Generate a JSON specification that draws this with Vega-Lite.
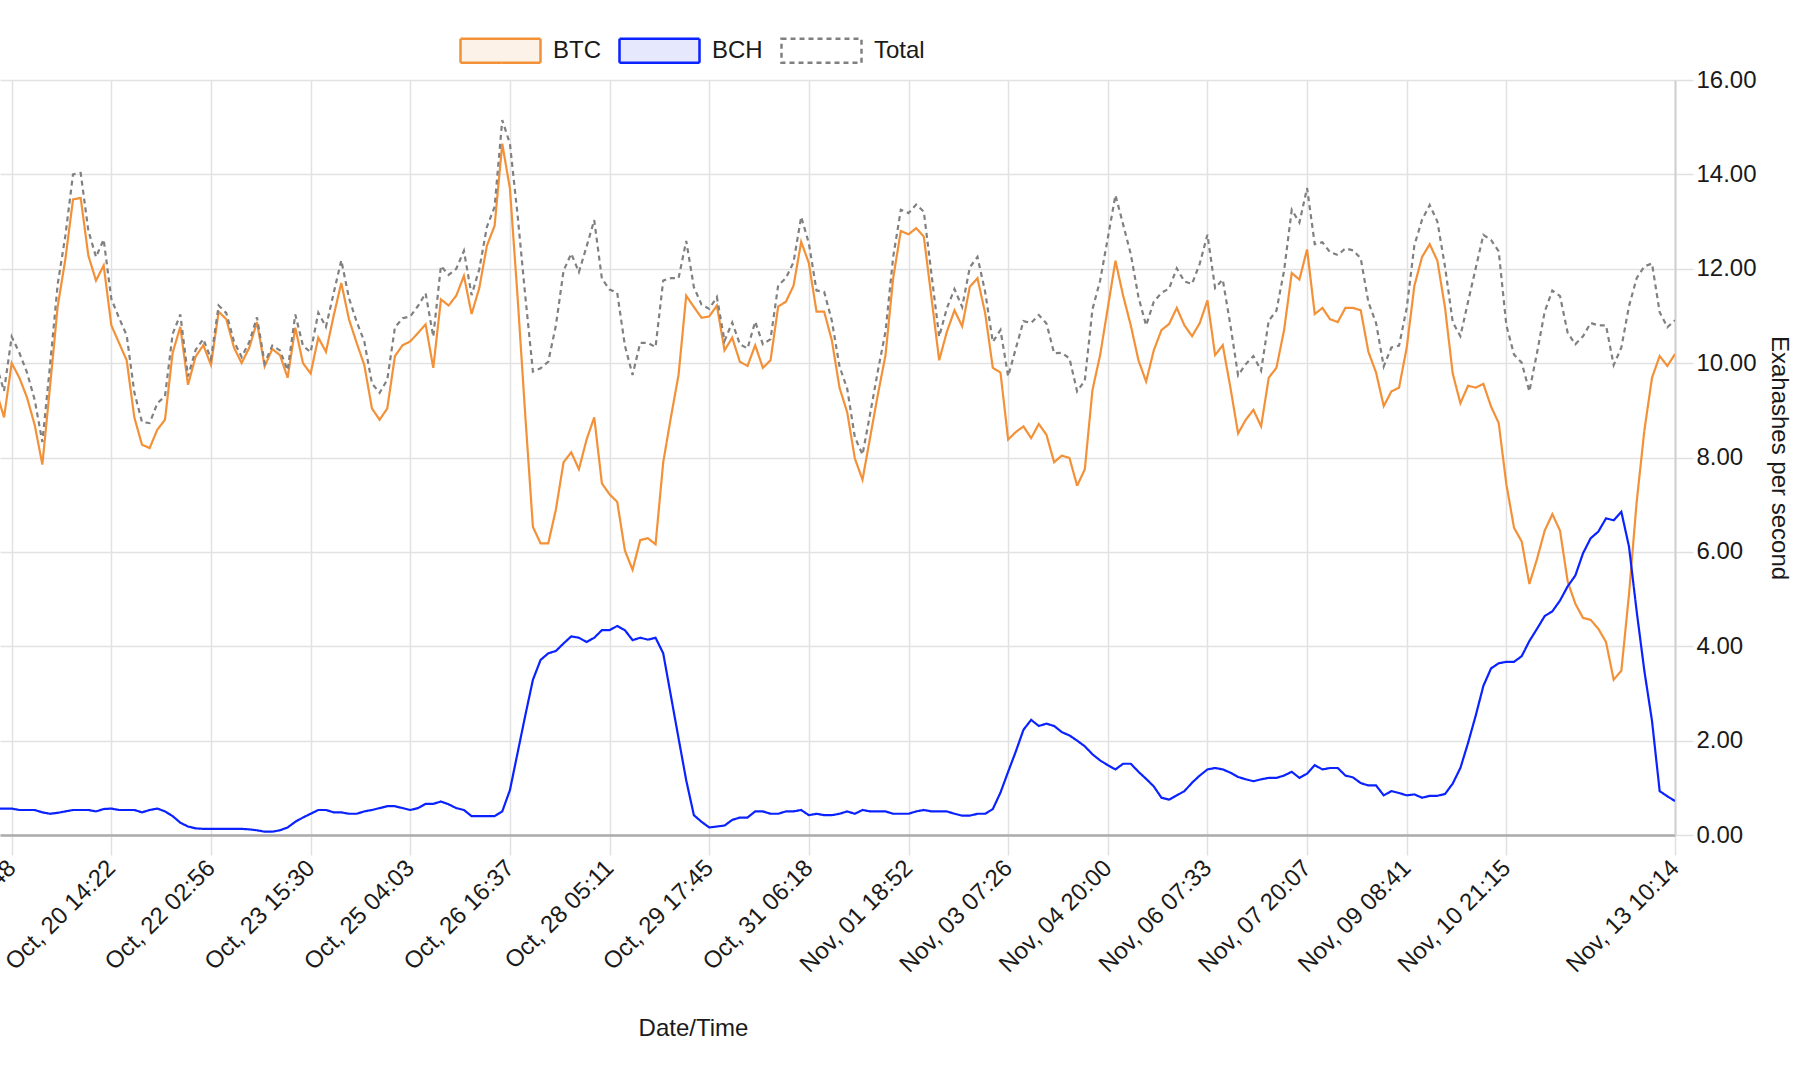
{
  "$schema": "https://vega.github.io/schema/vega-lite/v6.json",
  "width": 1675,
  "height": 755,
  "autosize": "none",
  "padding": {"left": 0, "top": 80, "right": 135, "bottom": 237},
  "background": "white",
  "config": {
    "view": {"stroke": null},
    "font": "Liberation Sans"
  },
  "data": {
    "values": [
      {"time": "2017-10-19T00:11:15Z", "BTC": 9.4, "BCH": 0.56, "Total": 9.96},
      {"time": "2017-10-19T03:00:00Z", "BTC": 8.85, "BCH": 0.56, "Total": 9.41},
      {"time": "2017-10-19T05:48:45Z", "BTC": 10.0, "BCH": 0.56, "Total": 10.56},
      {"time": "2017-10-19T08:37:30Z", "BTC": 9.69, "BCH": 0.53, "Total": 10.22},
      {"time": "2017-10-19T11:26:15Z", "BTC": 9.27, "BCH": 0.53, "Total": 9.8},
      {"time": "2017-10-19T14:15:00Z", "BTC": 8.69, "BCH": 0.53, "Total": 9.22},
      {"time": "2017-10-19T17:03:45Z", "BTC": 7.85, "BCH": 0.48, "Total": 8.33},
      {"time": "2017-10-19T19:52:30Z", "BTC": 9.5, "BCH": 0.45, "Total": 9.95},
      {"time": "2017-10-19T22:41:15Z", "BTC": 11.2, "BCH": 0.47, "Total": 11.67},
      {"time": "2017-10-20T01:30:00Z", "BTC": 12.2, "BCH": 0.5, "Total": 12.7},
      {"time": "2017-10-20T04:18:45Z", "BTC": 13.47, "BCH": 0.53, "Total": 14.0},
      {"time": "2017-10-20T07:07:30Z", "BTC": 13.5, "BCH": 0.53, "Total": 14.03},
      {"time": "2017-10-20T09:56:15Z", "BTC": 12.28, "BCH": 0.53, "Total": 12.81},
      {"time": "2017-10-20T12:45:00Z", "BTC": 11.75, "BCH": 0.5, "Total": 12.25},
      {"time": "2017-10-20T15:33:45Z", "BTC": 12.07, "BCH": 0.55, "Total": 12.62},
      {"time": "2017-10-20T18:22:30Z", "BTC": 10.8, "BCH": 0.56, "Total": 11.36},
      {"time": "2017-10-20T21:11:15Z", "BTC": 10.43, "BCH": 0.53, "Total": 10.96},
      {"time": "2017-10-21T00:00:00Z", "BTC": 10.06, "BCH": 0.53, "Total": 10.59},
      {"time": "2017-10-21T02:48:45Z", "BTC": 8.85, "BCH": 0.53, "Total": 9.38},
      {"time": "2017-10-21T05:37:30Z", "BTC": 8.27, "BCH": 0.48, "Total": 8.75},
      {"time": "2017-10-21T08:26:15Z", "BTC": 8.2, "BCH": 0.53, "Total": 8.73},
      {"time": "2017-10-21T11:15:00Z", "BTC": 8.59, "BCH": 0.56, "Total": 9.15},
      {"time": "2017-10-21T14:03:45Z", "BTC": 8.8, "BCH": 0.5, "Total": 9.3},
      {"time": "2017-10-21T16:52:30Z", "BTC": 10.22, "BCH": 0.4, "Total": 10.62},
      {"time": "2017-10-21T19:41:15Z", "BTC": 10.77, "BCH": 0.26, "Total": 11.03},
      {"time": "2017-10-21T22:30:00Z", "BTC": 9.54, "BCH": 0.18, "Total": 9.72},
      {"time": "2017-10-22T01:18:45Z", "BTC": 10.14, "BCH": 0.14, "Total": 10.28},
      {"time": "2017-10-22T04:07:30Z", "BTC": 10.38, "BCH": 0.13, "Total": 10.51},
      {"time": "2017-10-22T06:56:15Z", "BTC": 9.96, "BCH": 0.13, "Total": 10.09},
      {"time": "2017-10-22T09:45:00Z", "BTC": 11.09, "BCH": 0.13, "Total": 11.22},
      {"time": "2017-10-22T12:33:45Z", "BTC": 10.93, "BCH": 0.13, "Total": 11.06},
      {"time": "2017-10-22T15:22:30Z", "BTC": 10.33, "BCH": 0.13, "Total": 10.46},
      {"time": "2017-10-22T18:11:15Z", "BTC": 10.0, "BCH": 0.13, "Total": 10.13},
      {"time": "2017-10-22T21:00:00Z", "BTC": 10.33, "BCH": 0.12, "Total": 10.45},
      {"time": "2017-10-22T23:48:45Z", "BTC": 10.87, "BCH": 0.1, "Total": 10.97},
      {"time": "2017-10-23T02:37:30Z", "BTC": 9.93, "BCH": 0.07, "Total": 10.0},
      {"time": "2017-10-23T05:26:15Z", "BTC": 10.3, "BCH": 0.07, "Total": 10.37},
      {"time": "2017-10-23T08:15:00Z", "BTC": 10.17, "BCH": 0.1, "Total": 10.27},
      {"time": "2017-10-23T11:03:45Z", "BTC": 9.69, "BCH": 0.16, "Total": 9.85},
      {"time": "2017-10-23T13:52:30Z", "BTC": 10.75, "BCH": 0.28, "Total": 11.03},
      {"time": "2017-10-23T16:41:15Z", "BTC": 10.0, "BCH": 0.37, "Total": 10.37},
      {"time": "2017-10-23T19:30:00Z", "BTC": 9.78, "BCH": 0.45, "Total": 10.23},
      {"time": "2017-10-23T22:18:45Z", "BTC": 10.54, "BCH": 0.53, "Total": 11.07},
      {"time": "2017-10-24T01:07:30Z", "BTC": 10.24, "BCH": 0.53, "Total": 10.77},
      {"time": "2017-10-24T03:56:15Z", "BTC": 11.0, "BCH": 0.48, "Total": 11.48},
      {"time": "2017-10-24T06:45:00Z", "BTC": 11.7, "BCH": 0.48, "Total": 12.18},
      {"time": "2017-10-24T09:33:45Z", "BTC": 10.93, "BCH": 0.45, "Total": 11.38},
      {"time": "2017-10-24T12:22:30Z", "BTC": 10.43, "BCH": 0.45, "Total": 10.88},
      {"time": "2017-10-24T15:11:15Z", "BTC": 9.96, "BCH": 0.5, "Total": 10.46},
      {"time": "2017-10-24T18:00:00Z", "BTC": 9.04, "BCH": 0.53, "Total": 9.57},
      {"time": "2017-10-24T20:48:45Z", "BTC": 8.8, "BCH": 0.57, "Total": 9.37},
      {"time": "2017-10-24T23:37:30Z", "BTC": 9.04, "BCH": 0.61, "Total": 9.65},
      {"time": "2017-10-25T02:26:15Z", "BTC": 10.15, "BCH": 0.61, "Total": 10.76},
      {"time": "2017-10-25T05:15:00Z", "BTC": 10.38, "BCH": 0.57, "Total": 10.95},
      {"time": "2017-10-25T08:03:45Z", "BTC": 10.46, "BCH": 0.53, "Total": 10.99},
      {"time": "2017-10-25T10:52:30Z", "BTC": 10.64, "BCH": 0.57, "Total": 11.21},
      {"time": "2017-10-25T13:41:15Z", "BTC": 10.82, "BCH": 0.66, "Total": 11.48},
      {"time": "2017-10-25T16:30:00Z", "BTC": 9.9, "BCH": 0.66, "Total": 10.56},
      {"time": "2017-10-25T19:18:45Z", "BTC": 11.35, "BCH": 0.71, "Total": 12.06},
      {"time": "2017-10-25T22:07:30Z", "BTC": 11.22, "BCH": 0.65, "Total": 11.87},
      {"time": "2017-10-26T00:56:15Z", "BTC": 11.43, "BCH": 0.57, "Total": 12.0},
      {"time": "2017-10-26T03:45:00Z", "BTC": 11.85, "BCH": 0.53, "Total": 12.38},
      {"time": "2017-10-26T06:33:45Z", "BTC": 11.04, "BCH": 0.4, "Total": 11.44},
      {"time": "2017-10-26T09:22:30Z", "BTC": 11.59, "BCH": 0.4, "Total": 11.99},
      {"time": "2017-10-26T12:11:15Z", "BTC": 12.49, "BCH": 0.4, "Total": 12.89},
      {"time": "2017-10-26T15:00:00Z", "BTC": 12.91, "BCH": 0.4, "Total": 13.31},
      {"time": "2017-10-26T17:48:45Z", "BTC": 14.65, "BCH": 0.5, "Total": 15.15},
      {"time": "2017-10-26T20:37:30Z", "BTC": 13.7, "BCH": 0.95, "Total": 14.65},
      {"time": "2017-10-26T23:26:15Z", "BTC": 11.4, "BCH": 1.74, "Total": 13.14},
      {"time": "2017-10-27T02:15:00Z", "BTC": 8.9, "BCH": 2.53, "Total": 11.43},
      {"time": "2017-10-27T05:03:45Z", "BTC": 6.53, "BCH": 3.29, "Total": 9.82},
      {"time": "2017-10-27T07:52:30Z", "BTC": 6.18, "BCH": 3.71, "Total": 9.89},
      {"time": "2017-10-27T10:41:15Z", "BTC": 6.18, "BCH": 3.85, "Total": 10.03},
      {"time": "2017-10-27T13:30:00Z", "BTC": 6.9, "BCH": 3.9, "Total": 10.8},
      {"time": "2017-10-27T16:18:45Z", "BTC": 7.9, "BCH": 4.06, "Total": 11.96},
      {"time": "2017-10-27T19:07:30Z", "BTC": 8.11, "BCH": 4.21, "Total": 12.32},
      {"time": "2017-10-27T21:56:15Z", "BTC": 7.75, "BCH": 4.18, "Total": 11.93},
      {"time": "2017-10-28T00:45:00Z", "BTC": 8.38, "BCH": 4.09, "Total": 12.47},
      {"time": "2017-10-28T03:33:45Z", "BTC": 8.85, "BCH": 4.18, "Total": 13.03},
      {"time": "2017-10-28T06:22:30Z", "BTC": 7.45, "BCH": 4.34, "Total": 11.79},
      {"time": "2017-10-28T09:11:15Z", "BTC": 7.22, "BCH": 4.34, "Total": 11.56},
      {"time": "2017-10-28T12:00:00Z", "BTC": 7.06, "BCH": 4.43, "Total": 11.49},
      {"time": "2017-10-28T14:48:45Z", "BTC": 6.03, "BCH": 4.34, "Total": 10.37},
      {"time": "2017-10-28T17:37:30Z", "BTC": 5.62, "BCH": 4.13, "Total": 9.75},
      {"time": "2017-10-28T20:26:15Z", "BTC": 6.25, "BCH": 4.18, "Total": 10.43},
      {"time": "2017-10-28T23:15:00Z", "BTC": 6.29, "BCH": 4.14, "Total": 10.43},
      {"time": "2017-10-29T02:03:45Z", "BTC": 6.16, "BCH": 4.18, "Total": 10.34},
      {"time": "2017-10-29T04:52:30Z", "BTC": 7.9, "BCH": 3.85, "Total": 11.75},
      {"time": "2017-10-29T07:41:15Z", "BTC": 8.85, "BCH": 2.95, "Total": 11.8},
      {"time": "2017-10-29T10:30:00Z", "BTC": 9.75, "BCH": 2.05, "Total": 11.8},
      {"time": "2017-10-29T13:18:45Z", "BTC": 11.43, "BCH": 1.16, "Total": 12.59},
      {"time": "2017-10-29T16:07:30Z", "BTC": 11.19, "BCH": 0.42, "Total": 11.61},
      {"time": "2017-10-29T18:56:15Z", "BTC": 10.96, "BCH": 0.28, "Total": 11.24},
      {"time": "2017-10-29T21:45:00Z", "BTC": 10.99, "BCH": 0.16, "Total": 11.15},
      {"time": "2017-10-30T00:33:45Z", "BTC": 11.22, "BCH": 0.18, "Total": 11.4},
      {"time": "2017-10-30T03:22:30Z", "BTC": 10.27, "BCH": 0.2, "Total": 10.47},
      {"time": "2017-10-30T06:11:15Z", "BTC": 10.54, "BCH": 0.32, "Total": 10.86},
      {"time": "2017-10-30T09:00:00Z", "BTC": 10.03, "BCH": 0.37, "Total": 10.4},
      {"time": "2017-10-30T11:48:45Z", "BTC": 9.94, "BCH": 0.37, "Total": 10.31},
      {"time": "2017-10-30T14:37:30Z", "BTC": 10.38, "BCH": 0.5, "Total": 10.88},
      {"time": "2017-10-30T17:26:15Z", "BTC": 9.9, "BCH": 0.5, "Total": 10.4},
      {"time": "2017-10-30T20:15:00Z", "BTC": 10.06, "BCH": 0.45, "Total": 10.51},
      {"time": "2017-10-30T23:03:45Z", "BTC": 11.2, "BCH": 0.45, "Total": 11.65},
      {"time": "2017-10-31T01:52:30Z", "BTC": 11.3, "BCH": 0.5, "Total": 11.8},
      {"time": "2017-10-31T04:41:15Z", "BTC": 11.64, "BCH": 0.5, "Total": 12.14},
      {"time": "2017-10-31T07:30:00Z", "BTC": 12.57, "BCH": 0.53, "Total": 13.1},
      {"time": "2017-10-31T10:18:45Z", "BTC": 12.12, "BCH": 0.42, "Total": 12.54},
      {"time": "2017-10-31T13:07:30Z", "BTC": 11.09, "BCH": 0.45, "Total": 11.54},
      {"time": "2017-10-31T15:56:15Z", "BTC": 11.09, "BCH": 0.42, "Total": 11.51},
      {"time": "2017-10-31T18:45:00Z", "BTC": 10.48, "BCH": 0.42, "Total": 10.9},
      {"time": "2017-10-31T21:33:45Z", "BTC": 9.48, "BCH": 0.45, "Total": 9.93},
      {"time": "2017-11-01T00:22:30Z", "BTC": 8.96, "BCH": 0.5, "Total": 9.46},
      {"time": "2017-11-01T03:11:15Z", "BTC": 7.98, "BCH": 0.45, "Total": 8.43},
      {"time": "2017-11-01T06:00:00Z", "BTC": 7.53, "BCH": 0.53, "Total": 8.06},
      {"time": "2017-11-01T08:48:45Z", "BTC": 8.43, "BCH": 0.5, "Total": 8.93},
      {"time": "2017-11-01T11:37:30Z", "BTC": 9.33, "BCH": 0.5, "Total": 9.83},
      {"time": "2017-11-01T14:26:15Z", "BTC": 10.17, "BCH": 0.5, "Total": 10.67},
      {"time": "2017-11-01T17:15:00Z", "BTC": 11.8, "BCH": 0.45, "Total": 12.25},
      {"time": "2017-11-01T20:03:45Z", "BTC": 12.8, "BCH": 0.45, "Total": 13.25},
      {"time": "2017-11-01T22:52:30Z", "BTC": 12.73, "BCH": 0.45, "Total": 13.18},
      {"time": "2017-11-02T01:41:15Z", "BTC": 12.86, "BCH": 0.5, "Total": 13.36},
      {"time": "2017-11-02T04:30:00Z", "BTC": 12.68, "BCH": 0.53, "Total": 13.21},
      {"time": "2017-11-02T07:18:45Z", "BTC": 11.38, "BCH": 0.5, "Total": 11.88},
      {"time": "2017-11-02T10:07:30Z", "BTC": 10.06, "BCH": 0.5, "Total": 10.56},
      {"time": "2017-11-02T12:56:15Z", "BTC": 10.66, "BCH": 0.5, "Total": 11.16},
      {"time": "2017-11-02T15:45:00Z", "BTC": 11.12, "BCH": 0.45, "Total": 11.57},
      {"time": "2017-11-02T18:33:45Z", "BTC": 10.78, "BCH": 0.41, "Total": 11.19},
      {"time": "2017-11-02T21:22:30Z", "BTC": 11.62, "BCH": 0.41, "Total": 12.03},
      {"time": "2017-11-03T00:11:15Z", "BTC": 11.8, "BCH": 0.45, "Total": 12.25},
      {"time": "2017-11-03T03:00:00Z", "BTC": 11.06, "BCH": 0.45, "Total": 11.51},
      {"time": "2017-11-03T05:48:45Z", "BTC": 9.9, "BCH": 0.55, "Total": 10.45},
      {"time": "2017-11-03T08:37:30Z", "BTC": 9.8, "BCH": 0.9, "Total": 10.7},
      {"time": "2017-11-03T11:26:15Z", "BTC": 8.38, "BCH": 1.34, "Total": 9.72},
      {"time": "2017-11-03T14:15:00Z", "BTC": 8.54, "BCH": 1.77, "Total": 10.31},
      {"time": "2017-11-03T17:03:45Z", "BTC": 8.66, "BCH": 2.23, "Total": 10.89},
      {"time": "2017-11-03T19:52:30Z", "BTC": 8.41, "BCH": 2.44, "Total": 10.85},
      {"time": "2017-11-03T22:41:15Z", "BTC": 8.71, "BCH": 2.31, "Total": 11.02},
      {"time": "2017-11-04T01:30:00Z", "BTC": 8.48, "BCH": 2.36, "Total": 10.84},
      {"time": "2017-11-04T04:18:45Z", "BTC": 7.9, "BCH": 2.31, "Total": 10.21},
      {"time": "2017-11-04T07:07:30Z", "BTC": 8.04, "BCH": 2.18, "Total": 10.22},
      {"time": "2017-11-04T09:56:15Z", "BTC": 7.99, "BCH": 2.11, "Total": 10.1},
      {"time": "2017-11-04T12:45:00Z", "BTC": 7.4, "BCH": 2.0, "Total": 9.4},
      {"time": "2017-11-04T15:33:45Z", "BTC": 7.75, "BCH": 1.88, "Total": 9.63},
      {"time": "2017-11-04T18:22:30Z", "BTC": 9.43, "BCH": 1.71, "Total": 11.14},
      {"time": "2017-11-04T21:11:15Z", "BTC": 10.17, "BCH": 1.58, "Total": 11.75},
      {"time": "2017-11-05T00:00:00Z", "BTC": 11.17, "BCH": 1.48, "Total": 12.65},
      {"time": "2017-11-05T02:48:45Z", "BTC": 12.17, "BCH": 1.39, "Total": 13.56},
      {"time": "2017-11-05T05:37:30Z", "BTC": 11.43, "BCH": 1.51, "Total": 12.94},
      {"time": "2017-11-05T08:26:15Z", "BTC": 10.8, "BCH": 1.51, "Total": 12.31},
      {"time": "2017-11-05T11:15:00Z", "BTC": 10.06, "BCH": 1.34, "Total": 11.4},
      {"time": "2017-11-05T14:03:45Z", "BTC": 9.61, "BCH": 1.19, "Total": 10.8},
      {"time": "2017-11-05T16:52:30Z", "BTC": 10.27, "BCH": 1.03, "Total": 11.3},
      {"time": "2017-11-05T19:41:15Z", "BTC": 10.7, "BCH": 0.79, "Total": 11.49},
      {"time": "2017-11-05T22:30:00Z", "BTC": 10.83, "BCH": 0.75, "Total": 11.58},
      {"time": "2017-11-06T01:18:45Z", "BTC": 11.17, "BCH": 0.84, "Total": 12.01},
      {"time": "2017-11-06T04:07:30Z", "BTC": 10.8, "BCH": 0.93, "Total": 11.73},
      {"time": "2017-11-06T06:56:15Z", "BTC": 10.57, "BCH": 1.11, "Total": 11.68},
      {"time": "2017-11-06T09:45:00Z", "BTC": 10.85, "BCH": 1.26, "Total": 12.11},
      {"time": "2017-11-06T12:33:45Z", "BTC": 11.33, "BCH": 1.39, "Total": 12.72},
      {"time": "2017-11-06T15:22:30Z", "BTC": 10.17, "BCH": 1.42, "Total": 11.59},
      {"time": "2017-11-06T18:11:15Z", "BTC": 10.38, "BCH": 1.39, "Total": 11.77},
      {"time": "2017-11-06T21:00:00Z", "BTC": 9.48, "BCH": 1.32, "Total": 10.8},
      {"time": "2017-11-06T23:48:45Z", "BTC": 8.51, "BCH": 1.23, "Total": 9.74},
      {"time": "2017-11-07T02:37:30Z", "BTC": 8.8, "BCH": 1.18, "Total": 9.98},
      {"time": "2017-11-07T05:26:15Z", "BTC": 9.01, "BCH": 1.14, "Total": 10.15},
      {"time": "2017-11-07T08:15:00Z", "BTC": 8.66, "BCH": 1.18, "Total": 9.84},
      {"time": "2017-11-07T11:03:45Z", "BTC": 9.69, "BCH": 1.21, "Total": 10.9},
      {"time": "2017-11-07T13:52:30Z", "BTC": 9.9, "BCH": 1.21, "Total": 11.11},
      {"time": "2017-11-07T16:41:15Z", "BTC": 10.7, "BCH": 1.26, "Total": 11.96},
      {"time": "2017-11-07T19:30:00Z", "BTC": 11.91, "BCH": 1.34, "Total": 13.25},
      {"time": "2017-11-07T22:18:45Z", "BTC": 11.77, "BCH": 1.21, "Total": 12.98},
      {"time": "2017-11-08T01:07:30Z", "BTC": 12.41, "BCH": 1.3, "Total": 13.71},
      {"time": "2017-11-08T03:56:15Z", "BTC": 11.04, "BCH": 1.48, "Total": 12.52},
      {"time": "2017-11-08T06:45:00Z", "BTC": 11.17, "BCH": 1.39, "Total": 12.56},
      {"time": "2017-11-08T09:33:45Z", "BTC": 10.93, "BCH": 1.42, "Total": 12.35},
      {"time": "2017-11-08T12:22:30Z", "BTC": 10.87, "BCH": 1.42, "Total": 12.29},
      {"time": "2017-11-08T15:11:15Z", "BTC": 11.17, "BCH": 1.26, "Total": 12.43},
      {"time": "2017-11-08T18:00:00Z", "BTC": 11.17, "BCH": 1.22, "Total": 12.39},
      {"time": "2017-11-08T20:48:45Z", "BTC": 11.12, "BCH": 1.1, "Total": 12.22},
      {"time": "2017-11-08T23:37:30Z", "BTC": 10.24, "BCH": 1.05, "Total": 11.29},
      {"time": "2017-11-09T02:26:15Z", "BTC": 9.8, "BCH": 1.05, "Total": 10.85},
      {"time": "2017-11-09T05:15:00Z", "BTC": 9.09, "BCH": 0.84, "Total": 9.93},
      {"time": "2017-11-09T08:03:45Z", "BTC": 9.4, "BCH": 0.93, "Total": 10.33},
      {"time": "2017-11-09T10:52:30Z", "BTC": 9.48, "BCH": 0.89, "Total": 10.37},
      {"time": "2017-11-09T13:41:15Z", "BTC": 10.33, "BCH": 0.84, "Total": 11.17},
      {"time": "2017-11-09T16:30:00Z", "BTC": 11.64, "BCH": 0.86, "Total": 12.5},
      {"time": "2017-11-09T19:18:45Z", "BTC": 12.25, "BCH": 0.79, "Total": 13.04},
      {"time": "2017-11-09T22:07:30Z", "BTC": 12.52, "BCH": 0.83, "Total": 13.35},
      {"time": "2017-11-10T00:56:15Z", "BTC": 12.17, "BCH": 0.83, "Total": 13.0},
      {"time": "2017-11-10T03:45:00Z", "BTC": 11.17, "BCH": 0.87, "Total": 12.04},
      {"time": "2017-11-10T06:33:45Z", "BTC": 9.78, "BCH": 1.09, "Total": 10.87},
      {"time": "2017-11-10T09:22:30Z", "BTC": 9.15, "BCH": 1.42, "Total": 10.57},
      {"time": "2017-11-10T12:11:15Z", "BTC": 9.52, "BCH": 1.95, "Total": 11.3},
      {"time": "2017-11-10T15:00:00Z", "BTC": 9.48, "BCH": 2.53, "Total": 12.01},
      {"time": "2017-11-10T17:48:45Z", "BTC": 9.56, "BCH": 3.16, "Total": 12.72},
      {"time": "2017-11-10T20:37:30Z", "BTC": 9.08, "BCH": 3.53, "Total": 12.61},
      {"time": "2017-11-10T23:26:15Z", "BTC": 8.73, "BCH": 3.64, "Total": 12.37},
      {"time": "2017-11-11T02:15:00Z", "BTC": 7.43, "BCH": 3.67, "Total": 10.8},
      {"time": "2017-11-11T05:03:45Z", "BTC": 6.51, "BCH": 3.67, "Total": 10.18},
      {"time": "2017-11-11T07:52:30Z", "BTC": 6.22, "BCH": 3.79, "Total": 10.01},
      {"time": "2017-11-11T10:41:15Z", "BTC": 5.32, "BCH": 4.11, "Total": 9.4},
      {"time": "2017-11-11T13:30:00Z", "BTC": 5.85, "BCH": 4.37, "Total": 10.22},
      {"time": "2017-11-11T16:18:45Z", "BTC": 6.45, "BCH": 4.64, "Total": 11.09},
      {"time": "2017-11-11T19:07:30Z", "BTC": 6.8, "BCH": 4.74, "Total": 11.54},
      {"time": "2017-11-11T21:56:15Z", "BTC": 6.45, "BCH": 4.97, "Total": 11.42},
      {"time": "2017-11-12T00:45:00Z", "BTC": 5.37, "BCH": 5.27, "Total": 10.64},
      {"time": "2017-11-12T03:33:45Z", "BTC": 4.9, "BCH": 5.5, "Total": 10.4},
      {"time": "2017-11-12T06:22:30Z", "BTC": 4.6, "BCH": 5.97, "Total": 10.57},
      {"time": "2017-11-12T09:11:15Z", "BTC": 4.56, "BCH": 6.29, "Total": 10.85},
      {"time": "2017-11-12T12:00:00Z", "BTC": 4.37, "BCH": 6.43, "Total": 10.8},
      {"time": "2017-11-12T14:48:45Z", "BTC": 4.09, "BCH": 6.71, "Total": 10.8},
      {"time": "2017-11-12T17:37:30Z", "BTC": 3.29, "BCH": 6.67, "Total": 9.96},
      {"time": "2017-11-12T20:26:15Z", "BTC": 3.48, "BCH": 6.85, "Total": 10.33},
      {"time": "2017-11-12T23:15:00Z", "BTC": 5.1, "BCH": 6.11, "Total": 11.21},
      {"time": "2017-11-13T02:03:45Z", "BTC": 7.06, "BCH": 4.74, "Total": 11.8},
      {"time": "2017-11-13T04:52:30Z", "BTC": 8.57, "BCH": 3.48, "Total": 12.05},
      {"time": "2017-11-13T07:41:15Z", "BTC": 9.69, "BCH": 2.42, "Total": 12.11},
      {"time": "2017-11-13T10:30:00Z", "BTC": 10.15, "BCH": 0.93, "Total": 11.08},
      {"time": "2017-11-13T13:18:45Z", "BTC": 9.94, "BCH": 0.82, "Total": 10.76},
      {"time": "2017-11-13T16:07:30Z", "BTC": 10.19, "BCH": 0.72, "Total": 10.91}
    ]
  },
  "transform": [
    {"fold": ["BTC", "BCH", "Total"], "as": ["series", "value"]}
  ],
  "mark": {"type": "line", "clip": true, "strokeWidth": 2.2, "interpolate": "linear"},
  "encoding": {
    "x": {
      "field": "time",
      "type": "temporal",
      "scale": {
        "type": "utc",
        "domain": [
          {"year": 2017, "month": 10, "date": 19, "hours": 1, "minutes": 31, "seconds": 14, "utc": true},
          {"year": 2017, "month": 11, "date": 13, "hours": 16, "minutes": 7, "seconds": 30, "utc": true}
        ]
      },
      "axis": {
        "values": [1508392125000, 1508523750000, 1508655375000, 1508787000000, 1508918625000, 1509050250000, 1509181875000, 1509313500000, 1509445125000, 1509576750000, 1509708375000, 1509840000000, 1509971625000, 1510103250000, 1510234875000, 1510366500000, 1510589250000],
        "labelExpr": "['Oct, 19 01:48','Oct, 20 14:22','Oct, 22 02:56','Oct, 23 15:30','Oct, 25 04:03','Oct, 26 16:37','Oct, 28 05:11','Oct, 29 17:45','Oct, 31 06:18','Nov, 01 18:52','Nov, 03 07:26','Nov, 04 20:00','Nov, 06 07:33','Nov, 07 20:07','Nov, 09 08:41','Nov, 10 21:15','','Nov, 13 10:14'][round((datum.value - 1508392125000) / 131625000)]",
        "labelAngle": -45,
        "labelAlign": "right",
        "labelBaseline": "middle",
        "labelFontSize": 24,
        "labelFont": "Liberation Sans",
        "labelColor": "#1a1a1a",
        "labelOverlap": false,
        "labelFlush": false,
        "labelBound": false,
        "labelPadding": 9,
        "tickSize": 20,
        "tickColor": "#e0e0e0",
        "tickWidth": 1.5,
        "domainColor": "#ababab",
        "domainWidth": 2.5,
        "grid": true,
        "gridColor": "#e2e2e2",
        "gridWidth": 1.5,
        "title": "Date/Time",
        "titleFont": "Liberation Sans",
        "titleFontSize": 24,
        "titleFontWeight": "normal",
        "titleColor": "#1a1a1a",
        "titleX": 693,
        "titleY": 193,
        "titleAlign": "center",
        "titleBaseline": "middle"
      }
    },
    "y": {
      "field": "value",
      "type": "quantitative",
      "scale": {"domain": [0, 16], "nice": false, "zero": true},
      "axis": {
        "orient": "right",
        "values": [0, 2, 4, 6, 8, 10, 12, 14, 16],
        "format": ".2f",
        "labelFontSize": 24,
        "labelFont": "Liberation Sans",
        "labelColor": "#1a1a1a",
        "labelPadding": 3,
        "tickSize": 18,
        "tickColor": "#e0e0e0",
        "tickWidth": 1.5,
        "domainColor": "#d0d0d0",
        "domainWidth": 2,
        "grid": true,
        "gridColor": "#e2e2e2",
        "gridWidth": 1.5,
        "title": "Exahashes per second",
        "titleFont": "Liberation Sans",
        "titleFontSize": 24,
        "titleFontWeight": "normal",
        "titleColor": "#1a1a1a",
        "titleAngle": 90,
        "titleX": 103,
        "titleY": 377.5,
        "titleAlign": "center",
        "titleBaseline": "middle"
      }
    },
    "color": {
      "field": "series",
      "type": "nominal",
      "scale": {"domain": ["BTC", "BCH", "Total"], "range": ["#f39138", "#0a22ff", "#808080"]},
      "legend": {
        "orient": "none",
        "legendX": 459,
        "legendY": -71,
        "direction": "horizontal",
        "title": null,
        "padding": 0,
        "symbolType": "M-1,-0.3H1V0.3H-1Z",
        "symbolSize": 6400,
        "symbolStrokeWidth": 2.5,
        "symbolOpacity": 1,
        "labelFont": "Liberation Sans",
        "labelFontSize": 24,
        "labelColor": "#1a1a1a",
        "labelOffset": 11,
        "columnPadding": 13,
        "encode": {
          "symbols": {
            "update": {
              "fill": {"signal": "datum.value === 'BTC' ? '#fdf2e8' : datum.value === 'BCH' ? '#e6e9fe' : '#ffffff'"},
              "fillOpacity": {"value": 1}
            }
          }
        }
      }
    },
    "strokeDash": {
      "field": "series",
      "type": "nominal",
      "scale": {"domain": ["BTC", "BCH", "Total"], "range": [[1, 0], [1, 0], [5, 4]]}
    }
  }
}
